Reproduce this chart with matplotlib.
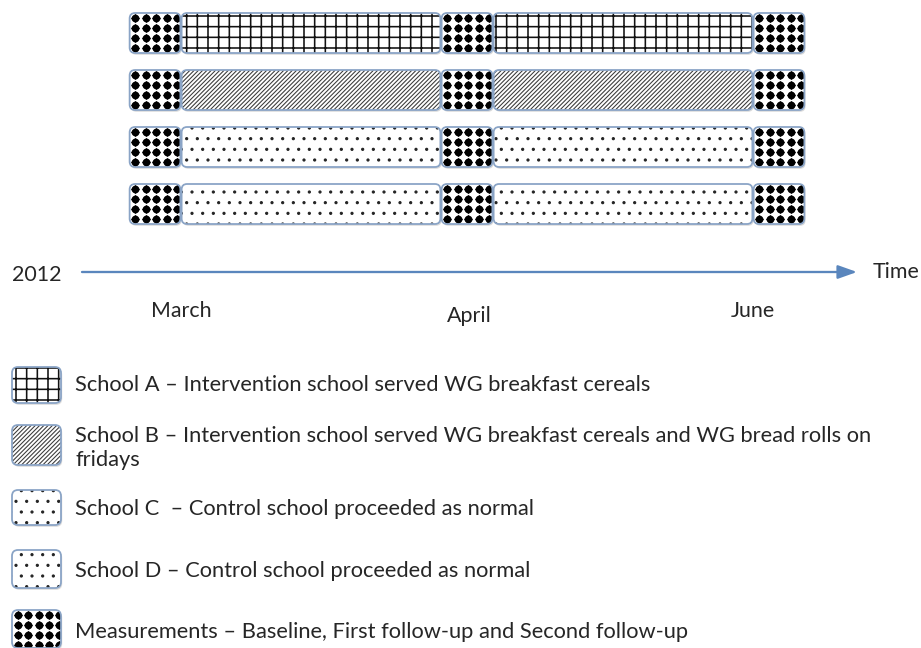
import numpy as np
import matplotlib
matplotlib.use("Agg")
import matplotlib.pyplot as plt
from matplotlib.patches import FancyBboxPatch
from matplotlib.transforms import Affine2D, blended_transform_factory

# ---------------- data ----------------
schools = ["School A", "School B", "School C", "School D"]
school_fill = ["grid", "diagonal", "dots", "dots"]
phase_names = ["Baseline", "Intervention period 1", "First follow-up",
               "Intervention period 2", "Second follow-up"]
phase_kind = ["measurement", "treatment", "measurement", "treatment", "measurement"]
phase_start = [0, 1, 6, 7, 12]
phase_end = [1, 6, 7, 12, 13]
months = ["March", "April", "June"]
month_pos = [1.0, 6.55, 12.0]
year_label = "2012"
axis_label = "Time"
legend_fill = ["grid", "diagonal", "dots", "dots", "measurement"]
legend_text = [
    "School A \u2013 Intervention school served WG breakfast cereals",
    "School B \u2013 Intervention school served WG breakfast cereals and WG bread rolls on\nfridays",
    "School C  \u2013 Control school proceeded as normal",
    "School D \u2013 Control school proceeded as normal",
    "Measurements \u2013 Baseline, First follow-up and Second follow-up",
]

# ---------------- style ----------------
plt.rcParams['font.family'] = ['Lato', 'DejaVu Sans']
W, H, DPI = 921, 648, 128
HATCH = {"grid": "++", "diagonal": "/" * 10, "dots": ".."}
HATCH_COLOR = {"grid": "#111111", "diagonal": "#3a3a3a", "dots": "#222222"}
HATCH_LW = {"grid": 0.9, "diagonal": 0.6, "dots": 0.6}
EDGE = "#8aa4c6"
BLUE = "#5a86bd"
TXT = "#262626"

fig = plt.figure(figsize=(W / DPI, H / DPI), dpi=DPI)
ax = fig.add_axes([0, 0, 1, 1])
ax.axis("off")
PX_X, X0, PX_Y, Y0 = 52.0, 129.0, 57.0, 33.0
ax.set_xlim(-X0 / PX_X, (W - X0) / PX_X)
ax.set_ylim((H - Y0) / PX_Y, -Y0 / PX_Y)

pix = Affine2D().scale(1, -1).translate(0, H)   # top-left pixel coords


def draw_box(x, y, w, h, fill, trans, sx, sy, rpx=5.5):
    """sx, sy: pixels per unit in x / y for this transform."""
    r = rpx / sx
    asp = sx / sy
    bs = f"round,pad=0,rounding_size={r}"
    shadow = FancyBboxPatch((x, y), w, h, boxstyle=bs, mutation_aspect=asp,
                            facecolor="#9a9a9a", edgecolor="none", alpha=0.35,
                            transform=trans + Affine2D().translate(1.2, -1.8),
                            zorder=1)
    ax.add_patch(shadow)
    base = FancyBboxPatch((x, y), w, h, boxstyle=bs, mutation_aspect=asp,
                          facecolor="white", edgecolor="none", transform=trans,
                          zorder=2)
    ax.add_patch(base)
    if fill == "measurement":
        clip = FancyBboxPatch((x, y), w, h, boxstyle=bs, mutation_aspect=asp,
                              facecolor="none", edgecolor="none", transform=trans,
                              zorder=2)
        ax.add_patch(clip)
        dx, dy = 10.4 / sx, 10.2 / sy
        xs = np.arange(x + dx * 0.55, x + w, dx)
        ys = np.arange(y + dy * 0.45, y + h + dy * 0.3, dy)
        gx, gy = np.meshgrid(xs, ys)
        sc = ax.scatter(gx.ravel(), gy.ravel(), s=19, marker="o", c="black",
                        linewidths=0, transform=trans, zorder=3)
        sc.set_clip_path(clip)
        sc2 = ax.scatter(gx.ravel(), gy.ravel(), s=13, marker="D", c="black",
                         linewidths=0, transform=trans, zorder=3)
        sc2.set_clip_path(clip)
    else:
        with plt.rc_context({"hatch.linewidth": HATCH_LW[fill]}):
            hp = FancyBboxPatch((x, y), w, h, boxstyle=bs, mutation_aspect=asp,
                                facecolor="none", edgecolor=HATCH_COLOR[fill],
                                linewidth=0, hatch=HATCH[fill], transform=trans,
                                zorder=3)
        ax.add_patch(hp)
    border = FancyBboxPatch((x, y), w, h, boxstyle=bs, mutation_aspect=asp,
                            facecolor="none", edgecolor=EDGE, linewidth=1.0,
                            transform=trans, zorder=4)
    ax.add_patch(border)


# ---------------- bars ----------------
row_h = 40.0 / PX_Y
gap = 0.012
for i, fill in enumerate(school_fill):
    for s, e, kind in zip(phase_start, phase_end, phase_kind):
        f = "measurement" if kind == "measurement" else fill
        draw_box(s + gap, i - row_h / 2, (e - s) - 2 * gap, row_h, f,
                 ax.transData, PX_X, PX_Y)

# ---------------- timeline ----------------
ax.annotate("", xy=(857, 272), xytext=(82, 272), xycoords=pix, textcoords=pix,
            arrowprops=dict(arrowstyle="-|>,head_length=0.45,head_width=0.16",
                            color=BLUE, lw=1.3, shrinkA=0, shrinkB=0,
                            mutation_scale=20))
ax.text(12, 275, year_label, transform=pix, ha="left", va="center",
        fontsize=12, color=TXT)
ax.text(873, 272, axis_label, transform=pix, ha="left", va="center",
        fontsize=12, color=TXT)
bt = blended_transform_factory(ax.transData, pix)
month_y = [311, 316, 311]
for m, xp, yp in zip(months, month_pos, month_y):
    ax.text(xp, yp, m, transform=bt, ha="center", va="center",
            fontsize=12, color=TXT)

# ---------------- legend ----------------
icon_top = [367, 425, 490, 550, 610]
icon_h = [36, 40, 35, 38, 38]
text_y = [385, 448, 509, 571, 632]
for fill, lab, yt, hh, ty in zip(legend_fill, legend_text, icon_top, icon_h, text_y):
    draw_box(12, yt, 49, hh, fill, pix, 1.0, 1.0, rpx=6)
    ax.text(75, ty, lab, transform=pix, ha="left", va="center",
            fontsize=12.3, color=TXT, linespacing=1.3)

fig.savefig("out.png", dpi=DPI)
